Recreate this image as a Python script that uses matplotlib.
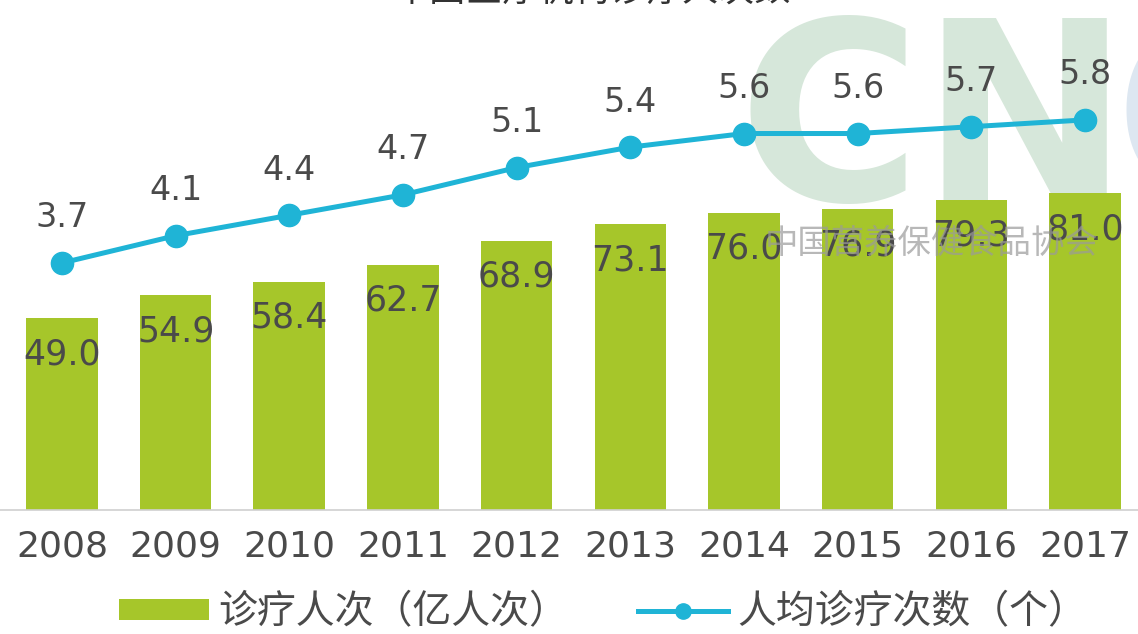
import matplotlib
matplotlib.use("Agg")
import matplotlib.pyplot as plt
from matplotlib.lines import Line2D
from matplotlib.patches import Patch

plt.rcParams['font.family'] = ['DejaVu Sans', 'Noto Sans CJK SC']

years = ['2008', '2009', '2010', '2011', '2012', '2013', '2014', '2015', '2016', '2017']
visits = [49.0, 54.9, 58.4, 62.7, 68.9, 73.1, 76.0, 76.9, 79.3, 81.0]
per_capita = [3.7, 4.1, 4.4, 4.7, 5.1, 5.4, 5.6, 5.6, 5.7, 5.8]
bar_name = '诊疗人次（亿人次）'
line_name = '人均诊疗次数（个）'
title = '中国医疗机构诊疗人次数'

bar_color = '#a6c62a'
line_color = '#1fb4d6'
text_color = '#4a4a4a'

fig = plt.figure(figsize=(11.38, 6.34), dpi=100)
ax = fig.add_axes([0, 1 - 510 / 634, 1, 510 / 634])
x = list(range(len(years)))

# watermark (behind everything)
fig.text(738 / 1138, 1 - 200 / 634, 'CN', fontsize=180, fontweight='bold', color='#d6e7da',
         ha='left', va='baseline', family=['DejaVu Sans'], zorder=0)
fig.text(1114 / 1138, 1 - 200 / 634, 'C', fontsize=180, fontweight='bold', color='#dde7f1',
         ha='left', va='baseline', family=['DejaVu Sans'], zorder=0)

ax.set_zorder(1)
ax.patch.set_visible(False)
ax.bar(x, visits, width=0.63, color=bar_color, zorder=2)
ax.set_xlim(-0.545, 9.466)
ax.set_ylim(0, 130.4)
for xi, v in zip(x, visits):
    ax.annotate(f'{v:.1f}', (xi, v), xytext=(0, -36), textcoords='offset pixels',
                ha='center', va='center', fontsize=25, color=text_color, zorder=3)

ax2 = ax.twinx()
ax2.plot(x, per_capita, color=line_color, lw=3.6, marker='o', markersize=16, zorder=4)
ax2.set_ylim(0.073, 7.56)
for xi, v in zip(x, per_capita):
    ax2.annotate(f'{v:.1f}', (xi, v), xytext=(0, 45), textcoords='offset pixels',
                 ha='center', va='center', fontsize=24, color=text_color)

for a in (ax, ax2):
    for s in a.spines.values():
        s.set_visible(False)
    a.tick_params(left=False, right=False, labelleft=False, labelright=False)
ax.spines['bottom'].set_visible(True)
ax.spines['bottom'].set_color('#d0d0d0')
ax.spines['bottom'].set_linewidth(1.2)
ax.set_xticks(x)
ax.set_xticklabels(years, fontsize=26, color=text_color)
ax.tick_params(axis='x', length=0, pad=14)

fig.text(765 / 1138, 1 - 243 / 634, '中国营养保健食品协会', fontsize=24, color='#9a9a9a',
         alpha=0.7, ha='left', va='center', family=['Noto Sans CJK SC'], zorder=5)

fig.text(0.52, 1 + 8 / 634, title, fontsize=26, color='#333333', ha='center',
         va='center', family=['Noto Sans CJK SC'])

handles = [Patch(facecolor=bar_color, edgecolor='none'),
           Line2D([0], [0], color=line_color, lw=3.6, marker='o', markersize=11)]
fig.legend(handles, [bar_name, line_name], loc='center', bbox_to_anchor=(0.53, 1 - 612 / 634),
           ncol=2, frameon=False, handlelength=2.3, handleheight=0.45,
           columnspacing=1.8, handletextpad=0.25, labelcolor=text_color,
           prop={'family': ['Noto Sans CJK SC'], 'size': 28})

fig.savefig('out.png', dpi=100)
